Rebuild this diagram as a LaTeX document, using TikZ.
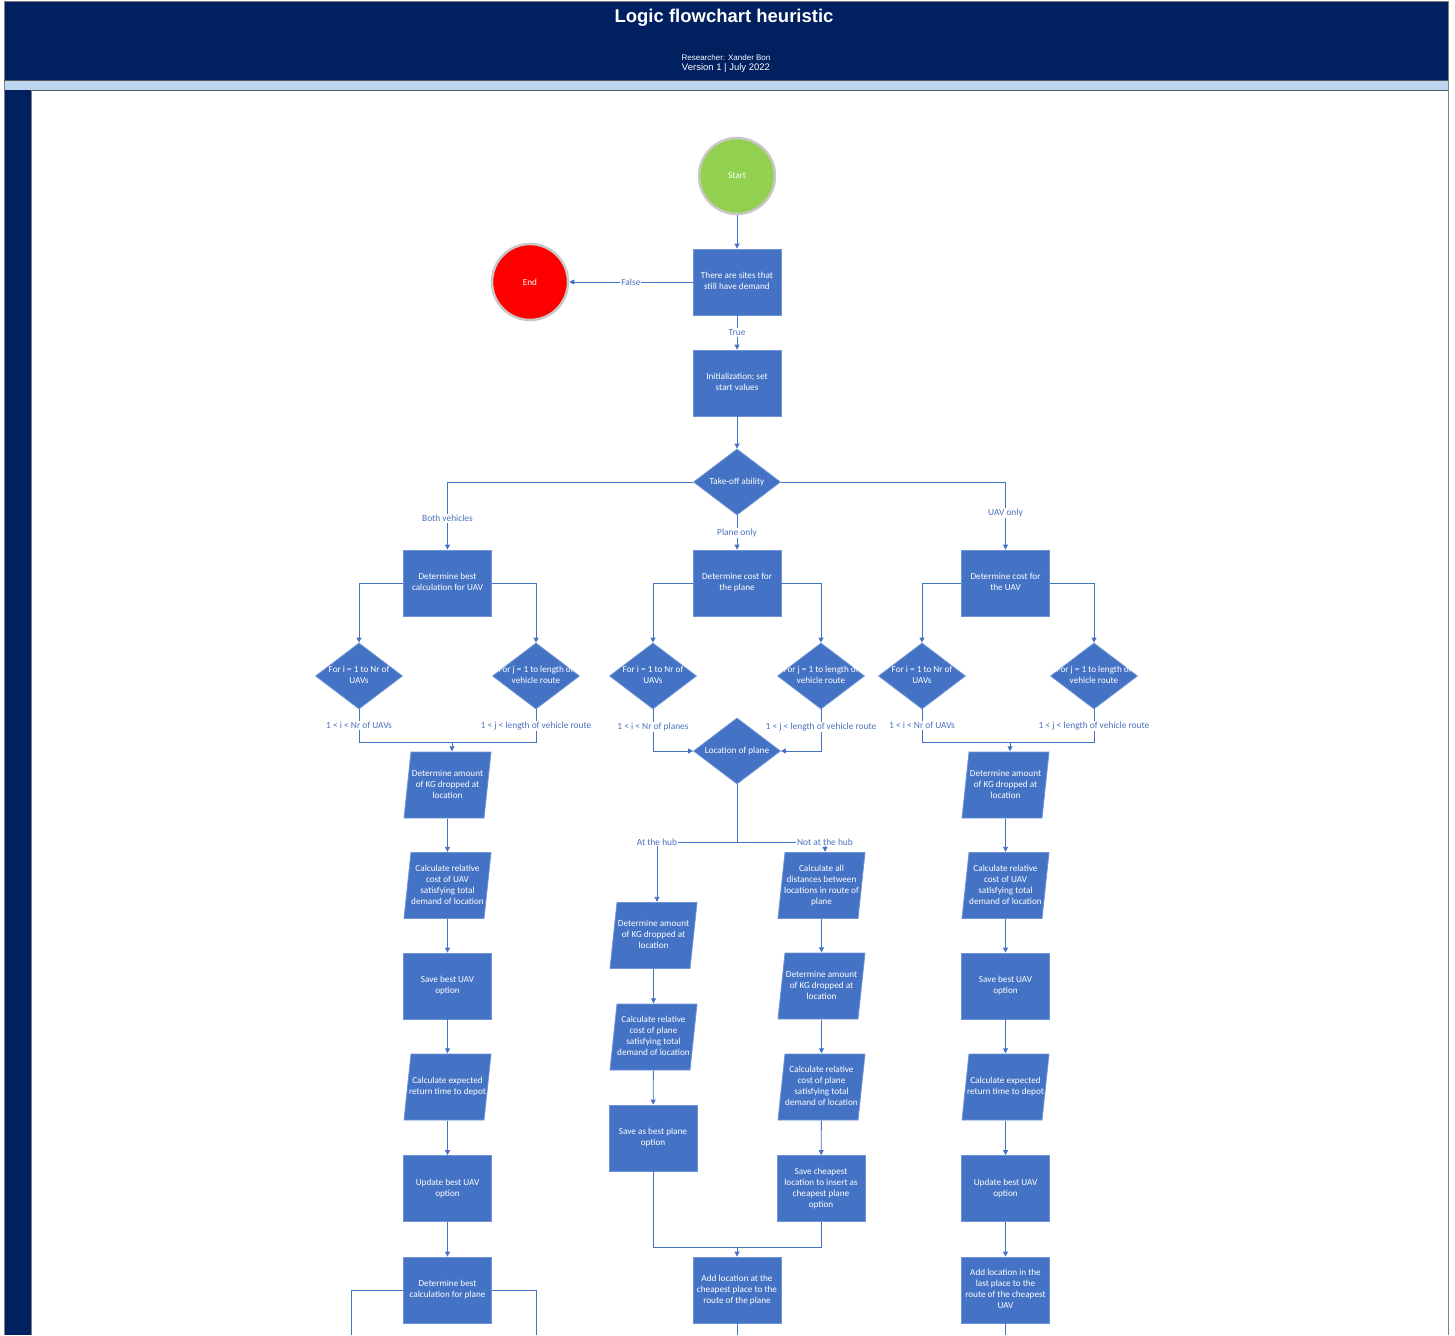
\documentclass[tikz,border=0pt]{standalone}
\usepackage{fontspec}
\setmainfont{Carlito}
\newfontfamily\headfont{Liberation Sans}
\usetikzlibrary{arrows.meta,shapes.geometric}

\definecolor{navy}{HTML}{002060}
\definecolor{band}{HTML}{BDD7EE}
\definecolor{frame}{HTML}{7F7F7F}
\definecolor{boxblue}{HTML}{4472C4}
\definecolor{boxedge}{HTML}{6E93D6}
\definecolor{lineblue}{HTML}{4472C4}
\definecolor{labblue}{HTML}{4A72C0}
\definecolor{startgreen}{HTML}{92D050}
\definecolor{endred}{HTML}{FF0000}
\definecolor{ringgray}{HTML}{C8C8C8}

% text block that does not widen its shape
\newcommand\ztext[1]{\makebox[0pt]{\begin{tabular}{@{}c@{}}#1\end{tabular}}}

\tikzset{
  shapetext/.style={text=white, font=\fontsize{9.2}{11}\selectfont, inner sep=0pt},
  proc/.style={shapetext, rectangle, fill=boxblue, draw=boxedge, line width=0.8pt,
    minimum width=88pt, minimum height=66pt},
  % slanted data box: parallelogram painted inside an invisible rectangle
  io/.style={shapetext, rectangle, fill=white,
    minimum width=88pt, minimum height=67pt,
    path picture={
      \filldraw[fill=boxblue, draw=boxedge, line width=0.8pt]
        ([shift={(7.5pt,-0.5pt)}]path picture bounding box.north west)
        -- ([shift={(-0.5pt,-0.5pt)}]path picture bounding box.north east)
        -- ([shift={(-7.5pt,0.5pt)}]path picture bounding box.south east)
        -- ([shift={(0.5pt,0.5pt)}]path picture bounding box.south west) -- cycle;}},
  decide/.style={shapetext, diamond, fill=boxblue, draw=boxedge, line width=0.8pt,
    minimum width=87pt, minimum height=66pt},
  term/.style={shapetext, circle, draw=ringgray, line width=2.5pt, minimum size=76pt},
  link/.style={draw=lineblue, line width=0.9pt},
  flow/.style={link, -{Triangle[length=5pt,width=5pt]}},
  lab/.style={fill=white, text=labblue, font=\fontsize{9.4}{10}\selectfont, inner sep=1pt},
}

\begin{document}
\begin{tikzpicture}[x=1pt,y=-1pt]
\useasboundingbox (0,0) rectangle (1455,1335);

% page frame and header
\fill[navy] (4,2) rectangle (1448,80);
\fill[band] (4,80) rectangle (1448,90);
\fill[navy] (4,90) rectangle (31,1335);
\draw[frame, line width=0.8pt] (4,1335) -- (4,1.5) -- (1448,1.5) -- (1448,1335);
\draw[frame!70!black, line width=0.6pt] (4,80) -- (1448,80);
\draw[frame!70!black, line width=0.6pt] (31,90) -- (1448,90);
\draw[frame, line width=0.6pt] (31,90) -- (31,1335);

\node[text=white, font=\headfont\bfseries\fontsize{18.5}{20}\selectfont] (title) at (724,18) {Logic flowchart heuristic};
\node[text=white, font=\headfont\fontsize{8}{9}\selectfont] (author) at (726,58) {Researcher: Xander Bon};
\node[text=white, font=\headfont\fontsize{9.5}{10}\selectfont] (version) at (726,68) {Version 1 | July 2022};

% top of the flow
\node[term, fill=startgreen] (start) at (737,176) {Start};
\node[term, fill=endred] (stop) at (530,282) {End};
\node[proc] (sites) at (737,282) {\ztext{There are sites that\\still have demand}};
\node[proc] (init) at (737,383) {\ztext{Initialization; set\\start values}};
\node[decide] (take) at (737,482) {\ztext{Take-off ability}};

% second level
\node[proc] (bUAV) at (447.5,583) {\ztext{Determine best\\calculation for UAV}};
\node[proc] (cPlane) at (737,583) {\ztext{Determine cost for\\the plane}};
\node[proc] (cUAV) at (1005.5,583) {\ztext{Determine cost for\\the UAV}};

% loops
\node[decide] (dL1) at (359,676) {\ztext{For i = 1 to Nr of\\UAVs}};
\node[decide] (dL2) at (536,676) {\ztext{For j = 1 to length of\\vehicle route}};
\node[decide] (dM1) at (653,676) {\ztext{For i = 1 to Nr of\\UAVs}};
\node[decide] (dM2) at (821,676) {\ztext{For j = 1 to length of\\vehicle route}};
\node[decide] (dR1) at (922,676) {\ztext{For i = 1 to Nr of\\UAVs}};
\node[decide] (dR2) at (1094,676) {\ztext{For j = 1 to length of\\vehicle route}};
\node[decide] (loc) at (737,751) {\ztext{Location of plane}};

% left column: both vehicles
\node[io] (L1) at (447.5,785) {\ztext{Determine amount\\of KG dropped at\\location}};
\node[io] (L2) at (447.5,885.5) {\ztext{Calculate relative\\cost of UAV\\satisfying total\\demand of location}};
\node[proc] (L3) at (447.5,986) {\ztext{Save best UAV\\option}};
\node[io] (L4) at (447.5,1087) {\ztext{Calculate expected\\return time to depot}};
\node[proc] (L5) at (447.5,1188.5) {\ztext{Update best UAV\\option}};
\node[proc] (L6) at (447.5,1290) {\ztext{Determine best\\calculation for plane}};

% right column: UAV only
\node[io] (R1) at (1005.5,785) {\ztext{Determine amount\\of KG dropped at\\location}};
\node[io] (R2) at (1005.5,885.5) {\ztext{Calculate relative\\cost of UAV\\satisfying total\\demand of location}};
\node[proc] (R3) at (1005.5,986) {\ztext{Save best UAV\\option}};
\node[io] (R4) at (1005.5,1087) {\ztext{Calculate expected\\return time to depot}};
\node[proc] (R5) at (1005.5,1188.5) {\ztext{Update best UAV\\option}};
\node[proc] (R6) at (1005.5,1290) {\ztext{Add location in the\\last place to the\\route of the cheapest\\UAV}};

% middle columns: plane only
\node[io] (ML1) at (653.5,935.5) {\ztext{Determine amount\\of KG dropped at\\location}};
\node[io] (ML2) at (653.5,1037) {\ztext{Calculate relative\\cost of plane\\satisfying total\\demand of location}};
\node[proc] (ML3) at (653,1138) {\ztext{Save as best plane\\option}};
\node[io] (MR1) at (821.5,885.5) {\ztext{Calculate all\\distances between\\locations in route of\\plane}};
\node[io] (MR2) at (821.5,986) {\ztext{Determine amount\\of KG dropped at\\location}};
\node[io] (MR3) at (821.5,1087) {\ztext{Calculate relative\\cost of plane\\satisfying total\\demand of location}};
\node[proc] (MR4) at (821,1188.5) {\ztext{Save cheapest\\location to insert as\\cheapest plane\\option}};
\node[proc] (AP) at (737,1290) {\ztext{Add location at the\\cheapest place to the\\route of the plane}};

% junction points
\coordinate (jL) at (452,742);
\coordinate (jR) at (1010,742);
\coordinate (split) at (737,842);
\coordinate (hubL) at (657,842);
\coordinate (hubR) at (825,842);
\coordinate (jM) at (737,1247);
\coordinate (exL) at (351,1335);
\coordinate (exR) at (536,1335);
\coordinate (exM) at (737,1335);
\coordinate (exRR) at (1005.5,1335);

% connectors
\draw[flow] (start) -- (sites);
\draw[flow] (sites) -- node[lab, pos=0.5]{False} (stop);
\draw[flow] (sites) -- node[lab]{True} (init);
\draw[flow] (init) -- (take);
\draw[flow] (take.west) -| node[lab, pos=0.77]{Both vehicles} (bUAV.north);
\draw[flow] (take.south) -- node[lab, pos=0.52]{Plane only} (cPlane.north);
\draw[flow] (take.east) -| node[lab, pos=0.73]{UAV only} (cUAV.north);

\draw[flow] (bUAV.west) -| (dL1.north);
\draw[flow] (bUAV.east) -| (dL2.north);
\draw[flow] (cPlane.west) -| (dM1.north);
\draw[flow] (cPlane.east) -| (dM2.north);
\draw[flow] (cUAV.west) -| (dR1.north);
\draw[flow] (cUAV.east) -| (dR2.north);

\draw[link] (dL1.south) -- node[lab]{1 < i < Nr of UAVs} (dL1.south |- jL) -- (dL2.south |- jL)
  -- node[lab]{1 < j < length of vehicle route} (dL2.south);
\draw[flow] (jL) -- (jL |- L1.north);
\draw[link] (dR1.south) -- node[lab]{1 < i < Nr of UAVs} (dR1.south |- jR) -- (dR2.south |- jR)
  -- node[lab]{1 < j < length of vehicle route} (dR2.south);
\draw[flow] (jR) -- (jR |- R1.north);
\draw[flow] (dM1.south) -- node[lab, pos=0.42]{1 < i < Nr of planes} (dM1.south |- loc.west) -- (loc.west);
\draw[flow] (dM2.south) -- node[lab, pos=0.42]{1 < j < length of vehicle route} (dM2.south |- loc.east) -- (loc.east);

\draw[link] (loc.south) -- (split);
\draw[flow] (split) -- (hubL) node[lab]{At the hub} -- (hubL |- ML1.north);
\draw[flow] (split) -- (hubR) node[lab]{Not at the hub} -- (hubR |- MR1.north);

\draw[flow] (L1) -- (L2);
\draw[flow] (L2) -- (L3);
\draw[flow] (L3) -- (L4);
\draw[flow] (L4) -- (L5);
\draw[flow] (L5) -- (L6);
\draw[flow] (R1) -- (R2);
\draw[flow] (R2) -- (R3);
\draw[flow] (R3) -- (R4);
\draw[flow] (R4) -- (R5);
\draw[flow] (R5) -- (R6);
\draw[flow] (ML1) -- (ML2);
\draw[flow] (ML2) -- (ML3);
\draw[flow] (MR1) -- (MR2);
\draw[flow] (MR2) -- (MR3);
\draw[flow] (MR3) -- (MR4);

\draw[link] (ML3.south) |- (jM) -- (MR4.south |- jM) -- (MR4.south);
\draw[flow] (jM) -- (AP.north);

\draw[link] (L6.west) -| (exL);
\draw[link] (L6.east) -| (exR);
\draw[link] (AP.south) -- (exM);
\draw[link] (R6.south) -- (exRR);
\end{tikzpicture}
\end{document}
